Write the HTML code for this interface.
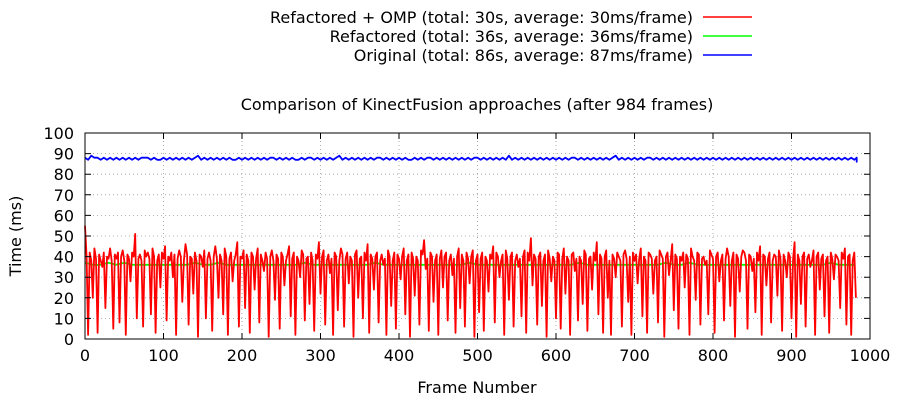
<!DOCTYPE html>
<html><head><meta charset="utf-8"><style>
html,body{margin:0;padding:0;background:#fff;}
svg{display:block;font-family:"DejaVu Sans","Liberation Sans",sans-serif;}
</style></head><body>
<svg id="chart" width="900" height="400">
<rect width="900" height="400" fill="#fff"/>
<g id="grid"></g>
<g id="series"></g>
<rect x="85" y="133" width="785" height="206" fill="none" stroke="#000" stroke-width="1"/>
<g id="ticks"></g>
<text x="477" y="110" font-size="16" text-anchor="middle">Comparison of KinectFusion approaches (after 984 frames)</text>
<text x="477" y="393" font-size="16" text-anchor="middle">Frame Number</text>
<text transform="translate(21,236) rotate(-90)" font-size="16" text-anchor="middle">Time (ms)</text>
<g>
<g><text x="693" y="23" font-size="16" text-anchor="end">Refactored + OMP (total: 30s, average: 30ms/frame)</text><line x1="703" y1="17" x2="752" y2="17" stroke="#f00" stroke-width="1.5"/></g>
<g><text x="693" y="42" font-size="16" text-anchor="end">Refactored (total: 36s, average: 36ms/frame)</text><line x1="703" y1="36" x2="752" y2="36" stroke="#0f0" stroke-width="1.5"/></g>
<g><text x="693" y="61" font-size="16" text-anchor="end">Original (total: 86s, average: 87ms/frame)</text><line x1="703" y1="55" x2="752" y2="55" stroke="#00f" stroke-width="1.5"/></g>
</g>
</svg>
<script>
const xTicks=[0,100,200,300,400,500,600,700,800,900,1000];
const yTicks=[0,10,20,30,40,50,60,70,80,90,100];
const ompStep=2;
const ompValues=[
55,40,2,42,38,20,44,39,3,41,38,35,42,15,40,39,44,38,5,41,
39,42,8,40,43,38,2,41,39,28,42,40,51,10,39,41,38,6,43,40,
42,39,12,44,40,3,38,41,25,42,39,45,9,40,38,42,30,41,2,39,
43,40,18,38,46,41,7,40,39,22,42,38,1,41,40,35,43,10,39,42,
38,4,40,45,39,20,41,38,12,44,40,2,39,42,28,38,41,47,6,40,
39,43,15,41,38,3,42,40,24,39,44,8,41,38,33,42,39,1,40,43,
38,19,41,39,5,42,40,26,38,41,45,11,39,42,2,40,38,30,43,41,
9,39,40,17,42,38,4,41,39,47,22,40,43,7,38,41,32,39,2,42,
40,14,38,44,41,6,39,42,27,40,38,1,41,43,20,39,40,10,42,38,
46,3,41,39,24,40,42,8,38,41,36,39,2,43,40,16,38,42,5,41,
39,29,40,44,12,38,41,1,42,39,21,40,38,7,43,41,48,34,39,4,
42,40,18,38,41,2,39,43,25,40,42,9,38,41,31,39,3,40,44,15,
41,38,6,42,39,27,40,43,1,38,41,13,39,42,4,40,38,23,41,39,
45,8,42,40,30,38,41,2,43,39,19,40,42,6,38,41,35,39,11,40,
43,3,42,38,49,26,41,39,7,40,42,16,38,41,1,43,39,28,40,38,
10,42,41,5,39,44,22,40,38,2,41,42,33,39,9,40,38,17,43,41,
4,39,40,24,42,38,47,12,41,39,3,40,43,20,38,2,41,39,30,42,
40,38,6,41,43,39,18,40,2,42,38,41,27,39,44,11,40,38,3,42,
41,39,22,38,40,8,43,41,39,1,40,42,31,38,46,14,41,39,5,40,
38,42,25,41,39,2,44,40,38,19,42,41,7,39,40,36,38,12,43,41,
39,3,40,42,28,38,41,9,39,44,40,16,38,42,1,41,39,23,40,43,
42,38,5,41,40,33,39,13,42,38,45,2,41,40,26,39,42,8,38,41,
40,21,43,39,4,41,38,30,42,40,10,39,47,1,41,38,17,40,42,6,
39,41,35,38,43,2,40,42,24,39,41,11,38,40,3,42,39,29,41,40,
38,15,42,39,44,7,40,41,2,38,42,20
];
const refStep=10;
const refValues=[37,36,36,37,36,37,36,36,36,36,36,36,36,36,37,36,36,37,36,36,
36,36,36,36,36,36,36,36,37,36,36,36,36,36,36,36,36,37,36,36,
36,36,36,36,36,36,36,36,36,37,36,36,36,36,36,36,36,36,36,36,
36,36,36,37,36,36,36,36,36,36,36,36,36,36,37,36,36,37,36,36,
36,36,36,36,36,36,36,36,36,36,36,36,36,36,36,37,36,36,36];
const origStep=4;
const origValues=[88,87,89,88,88,87,88,87,88,87,88,87,88,87,88,87,88,87,88,88,
88,87,88,87,87,88,87,88,87,88,87,88,87,88,87,88,89,87,88,87,
88,87,88,87,88,87,88,87,87,88,87,88,87,88,87,88,87,88,87,88,
88,87,88,87,88,87,88,87,87,88,87,88,88,87,88,87,88,87,88,87,
88,89,87,88,87,88,87,88,87,88,87,88,87,88,88,87,88,87,88,87,
88,87,88,87,87,88,87,88,87,88,88,87,88,87,88,87,88,87,88,87,
88,87,88,87,88,88,87,88,87,88,87,88,87,88,87,89,87,88,87,88,
87,88,87,88,87,88,87,88,87,88,87,88,87,88,87,88,88,87,88,87,
88,87,88,87,88,87,88,87,88,89,87,88,87,88,87,88,87,88,87,88,
88,87,88,87,88,87,88,87,88,87,88,87,88,87,88,87,88,87,88,87,
88,87,88,87,88,87,88,87,88,87,88,87,88,87,88,87,88,87,88,87,
88,87,88,87,88,87,88,87,88,87,88,87,88,87,88,87,88,87,88,87,
88,87,88,87,88,87,88,87,88,87,88,86,87];
const X0=85,X1=870,Y0=339,Y1=133;
function sx(v){return X0+(v/1000)*(X1-X0);}
function sy(v){return Y0-(v/100)*(Y0-Y1);}
const NS="http://www.w3.org/2000/svg";
function mk(tag,attrs,parent){const e=document.createElementNS(NS,tag);for(const k in attrs)e.setAttribute(k,attrs[k]);parent.appendChild(e);return e;}
const grid=document.getElementById('grid'),ticks=document.getElementById('ticks'),series=document.getElementById('series');
xTicks.forEach(t=>{
  const x=sx(t);
  if(t>0&&t<1000){const g=mk('line',{x1:x,y1:Y1,x2:x,y2:Y0,stroke:'#999','stroke-width':0.8,'stroke-dasharray':'1,3'},grid);
  
  }
  const tk=mk('path',{d:`M${x},${Y0}v-6M${x},${Y1}v6`,stroke:'#000'},ticks);
  
  
  const lb=mk('text',{x:x,y:Y0+22,'font-size':16,'text-anchor':'middle'},ticks);lb.textContent=t;
  
  
});
yTicks.forEach(t=>{
  const y=sy(t);
  if(t>0&&t<100){const g=mk('line',{x1:X0,y1:y,x2:X1,y2:y,stroke:'#999','stroke-width':0.8,'stroke-dasharray':'1,3'},grid);
  
  }
  const tk=mk('path',{d:`M${X0},${y}h6M${X1},${y}h-6`,stroke:'#000'},ticks);
  
  
  const lb=mk('text',{x:X0-11,y:y+6,'font-size':16,'text-anchor':'end'},ticks);lb.textContent=t;
  
  
});
function line(vals,step,color,name,w){
  const pts=vals.map((v,i)=>sx(Math.min(i*step,983)).toFixed(1)+','+sy(v).toFixed(1)).join(' ');
  const p=mk('polyline',{points:pts,fill:'none',stroke:color,'stroke-width':w,'stroke-linejoin':'round'},series);
  
  
}
line(origValues,origStep,'#00f','original-line',1.8);
line(refValues,refStep,'#0f0','refactored-line',1.8);
line(ompValues,ompStep,'#f00','refactored-omp-line',1.8);
</script>
</body></html>
